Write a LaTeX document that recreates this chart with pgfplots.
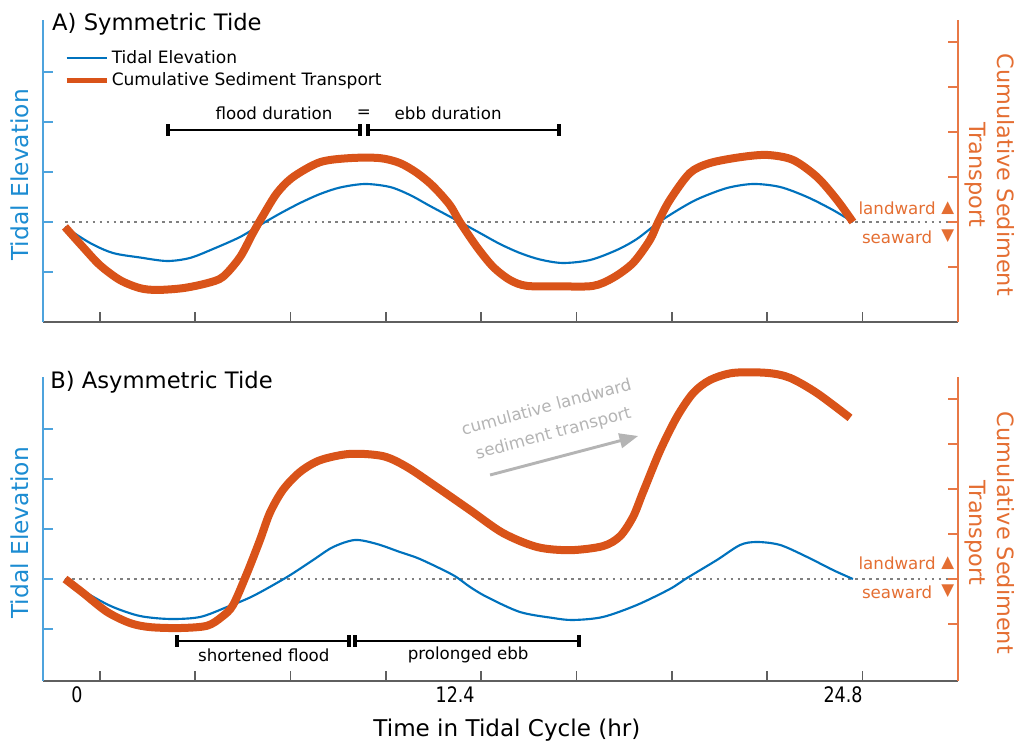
\documentclass[border=0pt]{standalone}
\usepackage{fontspec}
\setmainfont{DejaVu Sans}
\usepackage{graphicx}
\usepackage{pgfplots}
\usepackage{pgfplotstable}
\pgfplotsset{compat=1.18}
\usetikzlibrary{arrows.meta}

\definecolor{tideblue}{RGB}{0,114,189}
\definecolor{sedorange}{RGB}{217,83,25}
\definecolor{axblue}{RGB}{77,163,221}
\definecolor{lblblue}{RGB}{28,140,210}
\definecolor{axorange}{RGB}{232,120,70}
\definecolor{lblorange}{RGB}{228,110,50}
\definecolor{axgray}{RGB}{95,95,95}
\definecolor{arrowgray}{RGB}{180,180,180}

% Panel A: tidal elevation (left units)
\pgfplotstableread{
t y
0.00 -0.10
0.79 -0.42
1.51 -0.62
2.36 -0.71
3.21 -0.78
3.93 -0.72
4.66 -0.54
5.51 -0.30
6.14 -0.06
6.77 0.17
7.40 0.38
8.03 0.56
8.66 0.69
9.44 0.76
10.23 0.70
10.86 0.54
11.49 0.32
12.43 0.00
13.06 -0.22
13.69 -0.44
14.32 -0.62
14.95 -0.75
15.67 -0.82
16.53 -0.76
17.37 -0.56
18.00 -0.34
18.70 0.00
19.45 0.30
19.99 0.48
20.84 0.68
21.66 0.76
22.51 0.70
23.36 0.50
24.17 0.24
24.80 0.00
}\tideA

% Panel A: cumulative sediment transport (right units)
\pgfplotstableread{
t y
0.00 -0.11
0.57 -0.56
1.10 -0.96
1.73 -1.29
2.36 -1.47
2.90 -1.51
3.71 -1.47
4.47 -1.36
4.97 -1.22
5.51 -0.78
5.92 -0.24
6.23 0.14
6.67 0.64
7.18 1.00
8.03 1.33
8.97 1.42
9.91 1.42
10.54 1.31
11.08 1.09
11.58 0.80
12.11 0.38
12.43 0.00
12.97 -0.56
13.48 -1.00
14.01 -1.29
14.54 -1.42
15.58 -1.43
16.62 -1.42
17.25 -1.24
17.88 -0.91
18.41 -0.40
18.67 0.00
19.04 0.49
19.67 1.09
20.30 1.31
21.25 1.44
22.10 1.49
22.91 1.38
23.67 1.00
24.30 0.49
24.80 0.00
}\sedA

% Panel B: tidal elevation (left units)
\pgfplotstableread{
t y
0.00 0.00
0.79 -0.32
1.51 -0.56
2.36 -0.74
3.31 -0.80
4.25 -0.76
5.10 -0.56
5.92 -0.34
6.99 0.04
7.81 0.38
8.44 0.64
9.13 0.78
9.82 0.70
10.54 0.54
11.17 0.40
12.21 0.08
12.75 -0.16
13.28 -0.36
14.32 -0.66
15.36 -0.78
15.99 -0.82
16.93 -0.76
18.00 -0.52
19.04 -0.20
19.58 0.02
20.52 0.38
21.25 0.68
21.78 0.74
22.51 0.68
23.36 0.44
24.17 0.18
24.80 0.00
}\tideB

% Panel B: cumulative sediment transport (right units)
\pgfplotstableread{
t y
0.00 0.00
0.57 -0.31
1.32 -0.73
2.05 -0.98
2.68 -1.07
3.62 -1.09
4.47 -1.04
4.94 -0.84
5.29 -0.58
5.73 0.13
6.14 0.87
6.45 1.47
6.86 1.98
7.40 2.38
8.03 2.64
8.97 2.78
10.01 2.73
10.76 2.49
11.71 2.04
12.75 1.53
13.79 1.02
14.86 0.71
15.90 0.64
16.93 0.73
17.47 0.95
17.88 1.38
18.19 1.92
18.73 2.85
19.26 3.60
19.77 4.13
20.30 4.42
21.03 4.58
22.10 4.58
22.82 4.47
23.67 4.13
24.71 3.58
}\sedB

\tikzset{
  annot/.style={font=\fontsize{12.5}{15}\selectfont},
  dirlbl/.style={font=\fontsize{12.5}{15}\selectfont, text=lblorange},
}

\pgfplotsset{
  leftax/.style={scale only axis, width=686.25pt, xmin=-0.692, xmax=28.108,
    anchor=south west, clip=false,
    axis x line*=bottom, axis y line*=left,
    tick align=inside, major tick length=7.5pt,
    xtick={1.1,4.1,7.1,10.1,13.1,16.1,19.1,22.1,25.1}, xticklabels={},
    ytick={-1,0,1,2,3}, yticklabels={},
    x axis line style={draw=axgray, line width=1.5pt, -},
    y axis line style={draw=axblue, line width=1.5pt, -},
    x tick style={draw=axgray, line width=1.2pt},
    y tick style={draw=axblue, line width=1.2pt},
    every axis y label/.style={at={(axis description cs:-0.025,0.487)}, rotate=90,
      anchor=center, text=lblblue, font=\fontsize{17.5}{21}\selectfont},
    every axis title/.style={anchor=west, inner sep=0pt, font=\fontsize{17}{20}\selectfont},
    ylabel={Tidal Elevation},
  },
  rightax/.style={scale only axis, width=686.25pt, xmin=-0.692, xmax=28.108,
    anchor=south west, clip=false,
    axis x line=none, axis y line*=right, xtick=\empty,
    tick align=inside, major tick length=7.5pt,
    ytick={-1,0,1,2,3,4}, yticklabels={},
    y axis line style={draw=axorange, line width=1.5pt, -},
    y tick style={draw=axorange, line width=1.2pt},
    every axis y label/.style={at={(axis description cs:1.035,0.487)}, rotate=-90,
      anchor=center, align=center, text=lblorange, font=\fontsize{16.8}{21}\selectfont},
    ylabel={Cumulative Sediment\\Transport},
  },
  zeroline/.style={gray, line width=1pt, dash pattern=on 2pt off 3.2pt, forget plot},
}

\begin{document}
\begin{tikzpicture}
\path[use as bounding box] (0,0) rectangle (761.25pt,556.5pt);

% ---------------- Panel A ----------------
\begin{axis}[leftax, at={(32.25pt,315pt)}, height=226.5pt, ymin=-2, ymax=4.04,
  title={A) Symmetric Tide},
  title style={at={(axis description cs:0.0098,0.987)}},
  legend style={at={(axis description cs:0.0186,0.918)}, anchor=north west,
    draw=none, fill=none, font=\fontsize{12.8}{15}\selectfont, row sep=1.5pt},
  legend cell align=left,
  legend image code/.code={\draw[#1] (0pt,0pt) -- (30pt,0pt);},
]
\addplot[zeroline] coordinates {(0,0) (27.95,0)};
\addplot[tideblue, line width=1.6pt, smooth] table {\tideA};
\addlegendimage{sedorange, line width=3.6pt}
\legend{Tidal Elevation, Cumulative Sediment Transport}
% duration bars
\draw[line width=2pt] (axis cs:3.24,1.84) -- (axis cs:9.30,1.84);
\draw[line width=2pt] (axis cs:9.53,1.84) -- (axis cs:15.55,1.84);
\draw[line width=3pt] (axis cs:3.24,1.72) -- (axis cs:3.24,1.96);
\draw[line width=3pt] (axis cs:9.30,1.72) -- (axis cs:9.30,1.96);
\draw[line width=3pt] (axis cs:9.53,1.72) -- (axis cs:9.53,1.96);
\draw[line width=3pt] (axis cs:15.55,1.72) -- (axis cs:15.55,1.96);
\node[annot] at (axis cs:6.58,2.17) {flood duration};
\node[annot] at (axis cs:9.41,2.17) {=};
\node[annot] at (axis cs:12.06,2.17) {ebb duration};
\node[dirlbl] at (axis cs:26.19,0.28) {landward};
\node[dirlbl] at (axis cs:26.19,-0.30) {seaward};
\node[dirlbl] at (axis cs:27.79,0.28) {▲};
\node[dirlbl] at (axis cs:27.79,-0.28) {▼};
\end{axis}
\begin{axis}[rightax, at={(32.25pt,315pt)}, height=226.5pt, ymin=-2.222, ymax=4.489]
\addplot[sedorange, line width=6pt, smooth, line join=round] table {\sedA};
\end{axis}

% ---------------- Panel B ----------------
\begin{axis}[leftax, at={(32.25pt,45.75pt)}, height=228pt, ymin=-2.04, ymax=4.04,
  title={B) Asymmetric Tide},
  title style={at={(axis description cs:0.0077,0.984)}},
  extra x ticks={0.38,12.28,24.49},
  extra x tick labels={\scalebox{0.82}[1]{0},\scalebox{0.82}[1]{12.4},\scalebox{0.82}[1]{24.8}},
  extra x tick style={major tick length=0pt},
  xticklabel style={font=\fontsize{16}{18}\selectfont, yshift=-1pt},
  xlabel={Time in Tidal Cycle (hr)},
  every axis x label/.style={at={(axis description cs:0.507,-0.161)}, anchor=center,
    font=\fontsize{17.3}{20}\selectfont},
]
\addplot[zeroline] coordinates {(0,0) (27.95,0)};
\addplot[tideblue, line width=1.6pt, smooth] table {\tideB};
% duration bars
\draw[line width=2pt] (axis cs:3.53,-1.24) -- (axis cs:8.93,-1.24);
\draw[line width=2pt] (axis cs:9.14,-1.24) -- (axis cs:16.18,-1.24);
\draw[line width=3pt] (axis cs:3.53,-1.36) -- (axis cs:3.53,-1.12);
\draw[line width=3pt] (axis cs:8.93,-1.36) -- (axis cs:8.93,-1.12);
\draw[line width=3pt] (axis cs:9.14,-1.36) -- (axis cs:9.14,-1.12);
\draw[line width=3pt] (axis cs:16.18,-1.36) -- (axis cs:16.18,-1.12);
\node[annot] at (axis cs:6.26,-1.52) {shortened flood};
\node[annot] at (axis cs:12.69,-1.52) {prolonged ebb};
\node[dirlbl] at (axis cs:26.19,0.32) {landward};
\node[dirlbl] at (axis cs:26.19,-0.26) {seaward};
\node[dirlbl] at (axis cs:27.79,0.32) {▲};
\node[dirlbl] at (axis cs:27.79,-0.24) {▼};
% cumulative transport arrow
\draw[arrowgray, line width=2.2pt, -{Triangle[length=14pt,width=11pt]}]
  (axis cs:13.38,2.08) -- (axis cs:18.04,2.86);
\node[annot, text=arrowgray, rotate=15, align=center, font=\fontsize{12.5}{20}\selectfont]
  at (axis cs:15.27,3.16) {cumulative landward\\sediment transport};
\end{axis}
\begin{axis}[rightax, at={(32.25pt,45.75pt)}, height=228pt, ymin=-2.267, ymax=4.489]
\addplot[sedorange, line width=6pt, smooth, line join=round] table {\sedB};
\end{axis}
\end{tikzpicture}
\end{document}
